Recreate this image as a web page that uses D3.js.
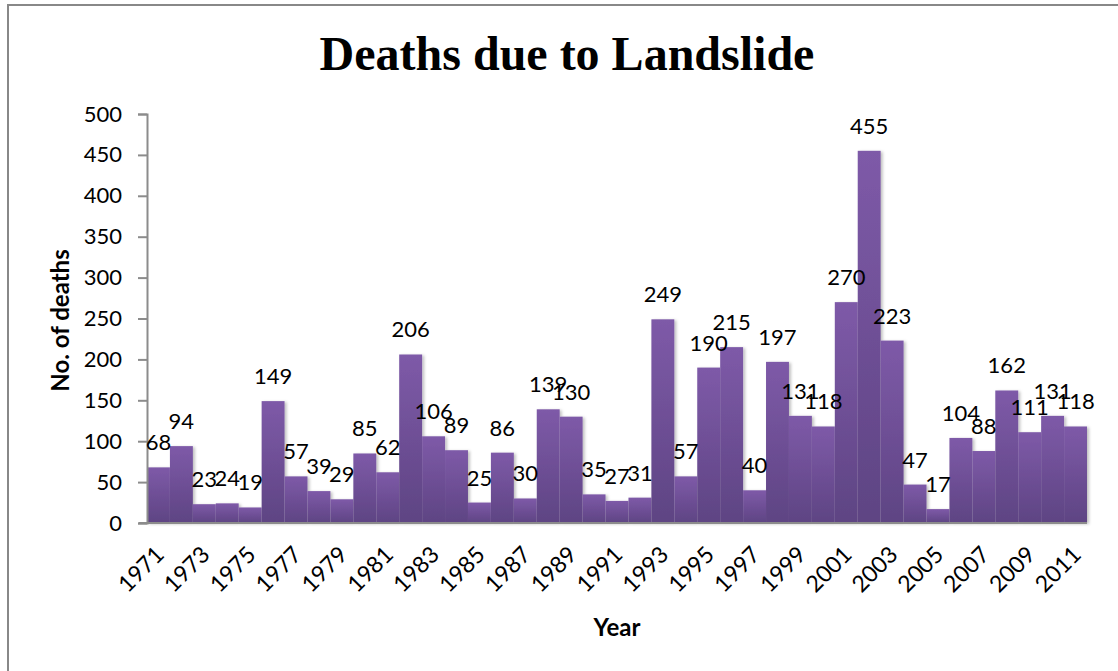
<!DOCTYPE html>
<html>
<head>
<meta charset="utf-8">
<script src="https://cdn.jsdelivr.net/npm/d3@7"></script>
<style>
  body { margin: 0; background: #fff; }
  text { font-family: Lato, "Liberation Sans", sans-serif; fill: #000; }
</style>
</head>
<body>
<script>
// data
var years = d3.range(1971, 2012);
var deaths = [68, 94, 23, 24, 19, 149, 57, 39, 29, 85,
              62, 206, 106, 89, 25, 86, 30, 139, 130, 35,
              27, 31, 249, 57, 190, 215, 40, 197, 131, 118,
              270, 455, 223, 47, 17, 104, 88, 162, 111, 131, 118];
var yTicks = [0, 50, 100, 150, 200, 250, 300, 350, 400, 450, 500];
var xTickYears = years.filter(function(y) { return (y - 1971) % 2 == 0; });

var W = 1118, H = 671;
var plotLeft = 147, plotRight = 1087, plotTop = 114, plotBottom = 523;

var svg = d3.select("body").append("svg")
  .attr("width", W)
  .attr("height", H);

var defs = svg.append("defs");
var grad = defs.append("linearGradient")
  .attr("id", "barGrad")
  .attr("x1", 0).attr("y1", 0).attr("x2", 0).attr("y2", 1);
grad.append("stop").attr("offset", "0%").attr("stop-color", "#7e5aa8");
grad.append("stop").attr("offset", "100%").attr("stop-color", "#5e4483");

var shadow = defs.append("filter").attr("id", "shadow")
  .attr("x", "-20%").attr("y", "-5%").attr("width", "160%").attr("height", "115%");
shadow.append("feDropShadow")
  .attr("dx", 2).attr("dy", 1).attr("stdDeviation", 1.5)
  .attr("flood-color", "#000").attr("flood-opacity", 0.25);

// outer frame
svg.append("rect")
  .attr("x", 8).attr("y", 5)
  .attr("width", W + 20).attr("height", H + 20)
  .attr("fill", "none")
  .attr("stroke", "#888")
  .attr("stroke-width", 2);

var x = d3.scaleBand()
  .domain(years)
  .range([plotLeft, plotRight])
  .padding(0);

var y = d3.scaleLinear()
  .domain([0, 500])
  .range([plotBottom, plotTop]);

// bars
svg.append("g")
  .attr("filter", "url(#shadow)")
  .selectAll("rect")
  .data(deaths)
  .enter().append("rect")
  .attr("x", function(d, i) { return x(years[i]); })
  .attr("y", function(d) { return y(d); })
  .attr("width", x.bandwidth())
  .attr("height", function(d) { return plotBottom - y(d); })
  .attr("fill", "url(#barGrad)");

// y axis
var yAxis = svg.append("g")
  .attr("transform", "translate(" + plotLeft + ",0)")
  .call(d3.axisLeft(y).tickValues(yTicks).tickSize(9).tickPadding(16));
yAxis.select(".domain").attr("stroke", "#8c8c8c").attr("stroke-width", 2);
yAxis.selectAll(".tick line").attr("stroke", "#8c8c8c").attr("stroke-width", 2);
yAxis.selectAll(".tick text")
  .style("font-size", "22px")
  .style("font-family", "Lato, sans-serif");

// x axis
var xAxis = svg.append("g")
  .attr("transform", "translate(0," + plotBottom + ")")
  .call(d3.axisBottom(x).tickValues(xTickYears).tickSize(0).tickSizeOuter(0));
xAxis.select(".domain")
  .attr("d", "M" + (plotLeft - 8) + ",0H" + plotRight)
  .attr("stroke", "#8c8c8c").attr("stroke-width", 2);
xAxis.selectAll(".tick text")
  .attr("y", 0)
  .attr("dy", 0)
  .attr("text-anchor", "end")
  .attr("transform", "translate(7,33) rotate(-45)")
  .style("font-size", "23px")
  .style("font-family", "Lato, sans-serif");

// value labels
svg.append("g")
  .selectAll("text")
  .data(deaths)
  .enter().append("text")
  .attr("x", function(d, i) { return x(years[i]) + x.bandwidth() / 2; })
  .attr("y", function(d) { return y(d) - 17; })
  .attr("text-anchor", "middle")
  .style("font-size", "22px")
  .text(function(d) { return d; });

// titles
svg.append("text")
  .attr("x", 567).attr("y", 70)
  .attr("text-anchor", "middle")
  .style("font-family", "'Liberation Serif', 'Times New Roman', serif")
  .style("font-weight", "bold")
  .style("font-size", "48px")
  .text("Deaths due to Landslide");

svg.append("text")
  .attr("transform", "translate(69," + ((plotTop + plotBottom) / 2 + 2) + ") rotate(-90)")
  .attr("text-anchor", "middle")
  .style("font-weight", "bold")
  .style("font-size", "24px")
  .text("No. of deaths");

svg.append("text")
  .attr("x", 617).attr("y", 636)
  .attr("text-anchor", "middle")
  .style("font-weight", "bold")
  .style("font-size", "24px")
  .text("Year");
</script>
</body>
</html>
